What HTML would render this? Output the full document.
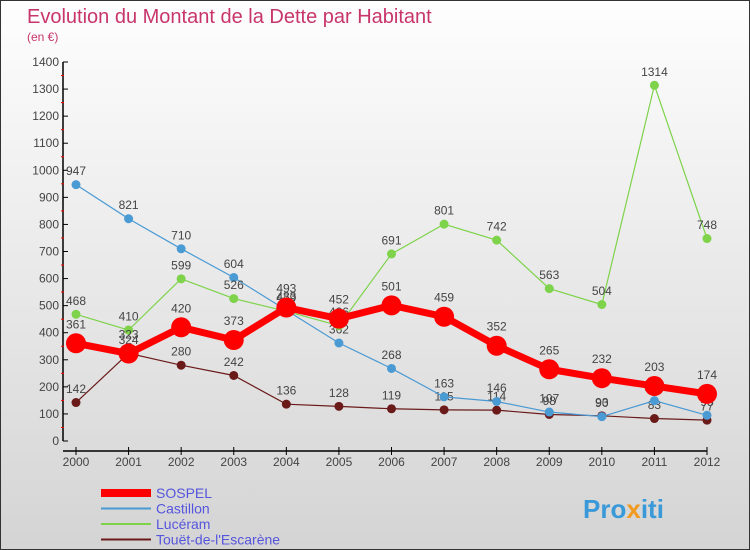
<!DOCTYPE html>
<html><head><meta charset="utf-8"><style>
body{margin:0}
#c{width:750px;height:550px;position:relative;overflow:hidden;font-family:"Liberation Sans",sans-serif;background:linear-gradient(#fefefe,#d4d4d4);box-sizing:border-box;border:1px solid #333}
</style></head><body>
<div id="c">
<svg id="s" width="750" height="550" style="position:absolute;left:0;top:0">
<text x="26" y="22" font-size="20" fill="#c8356b">Evolution du Montant de la Dette par Habitant</text>
<text x="26" y="40" font-size="12" fill="#c8356b">(en €)</text>
<g id="axes"></g><g id="series"></g><g id="legend"></g>
<text x="582" y="517" font-size="26" font-weight="bold" fill="#3a9ad9">Pro<tspan fill="#f29a1f">x</tspan>iti</text>
</svg>
</div>
<script>
const years=[2000,2001,2002,2003,2004,2005,2006,2007,2008,2009,2010,2011,2012];
const sospel=[361,323,420,373,493,452,501,459,352,265,232,203,174];
const castillon=[947,821,710,604,483,362,268,163,146,107,90,149,95];
const luceram=[468,410,599,526,479,426,691,801,742,563,504,1314,748];
const touet=[142,324,280,242,136,128,119,115,114,98,93,83,77];
const yTicks=[0,100,200,300,400,500,600,700,800,900,1000,1100,1200,1300,1400];
const NS="http://www.w3.org/2000/svg";
function X(i){return 75+i*(706-75)/12}
function Y(v){return 440-v*(440-61)/1400}
function mk(t,a,p){const e=document.createElementNS(NS,t);for(const k in a)e.setAttribute(k,a[k]);p.appendChild(e);return e}
const ax=document.getElementById('axes');
let l=mk('line',{x1:62,y1:61,x2:62,y2:440,stroke:'#000','stroke-width':1.5},ax);


l=mk('line',{x1:62,y1:450,x2:706,y2:450,stroke:'#000','stroke-width':1.5},ax);


yTicks.forEach(v=>{
 mk('line',{x1:62,x2:67,y1:Y(v),y2:Y(v),stroke:'#000'},ax);
 if(v<1400)mk('line',{x1:60,x2:63,y1:Y(v+50),y2:Y(v+50),stroke:'#f00'},ax);
 const t=mk('text',{x:58,y:Y(v)+4,'font-size':12,fill:'#444','text-anchor':'end'},ax);t.textContent=v;
 
 
});
years.forEach((y,i)=>{
 mk('line',{x1:X(i),x2:X(i),y1:446,y2:454,stroke:'#000'},ax);
 const t=mk('text',{x:X(i),y:465,'font-size':12,fill:'#444','text-anchor':'middle'},ax);t.textContent=y;
 
 
});
const sg=document.getElementById('series');
function draw(vals,color,w,r,name){
 const g=mk('g',{},sg);
 
 
 const pl=mk('polyline',{points:vals.map((v,i)=>X(i)+','+Y(v)).join(' '),fill:'none',stroke:color,'stroke-width':w},g);
 
 
 vals.forEach((v,i)=>{
  const c=mk('circle',{cx:X(i),cy:Y(v),r:r,fill:color},g);
  
  
  const t=mk('text',{x:X(i),y:Y(v)-r-5,'font-size':12,fill:'#444','text-anchor':'middle'},g);t.textContent=v;
  
  
 });
}
draw(touet,'#6b1a1a',1.2,4.5,'touet');
draw(castillon,'#4a9ad4',1.2,4.5,'castillon');
draw(luceram,'#7ed34a',1.2,4.5,'luceram');
draw(sospel,'#ff0000',7,10,'sospel');
const lg=document.getElementById('legend');
[['SOSPEL','#ff0000',8],['Castillon','#4a9ad4',2],['Lucéram','#7ed34a',2],['Touët-de-l\'Escarène','#6b1a1a',2]].forEach((d,i)=>{
 const y=492+i*15.5;
 const ln=mk('line',{x1:100,x2:150,y1:y,y2:y,stroke:d[1],'stroke-width':d[2]},lg);
 
 
 const t=mk('text',{x:155,y:y+5,'font-size':14,fill:'#5555dd'},lg);t.textContent=d[0];
 
 
});
</script>
</body></html>
